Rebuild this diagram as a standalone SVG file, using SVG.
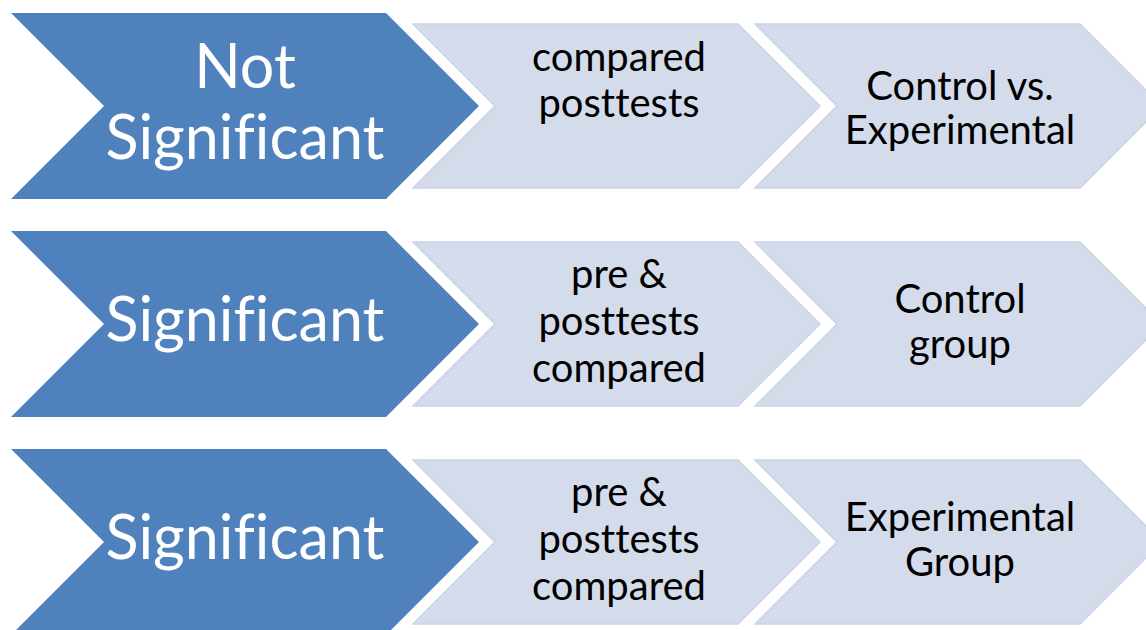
<svg xmlns="http://www.w3.org/2000/svg" width="1146" height="630" viewBox="0 0 1146 630">
<style>
.blue{fill:#4F81BD;}
.light{fill:#D4DBEB;stroke:#CBD3E7;stroke-width:1.5;}
.bt{font-family:Lato,"Open Sans",sans-serif;font-size:61px;fill:#FFFFFF;text-anchor:middle;font-variant-ligatures:none;font-feature-settings:"liga" 0;}
.lt{font-family:Lato,"Open Sans",sans-serif;font-size:40px;fill:#000000;text-anchor:middle;font-variant-ligatures:none;font-feature-settings:"liga" 0;}
</style>
<rect width="1146" height="630" fill="#FFFFFF"/>
<g id="row1-main">
<polygon class="blue" points="11,13 386,13 479,106 386,199 11,199 104,106"/>
<text class="bt" x="245" y="88">Not</text>
<text class="bt" x="245" y="159">Significant</text>
</g>
<g id="row1-step1">
<polygon class="light" points="413,24 738,24 820,106 738,188 413,188 495,106"/>
<text class="lt" x="619" y="71">compared</text>
<text class="lt" x="619" y="117">posttests</text>
</g>
<g id="row1-step2">
<polygon class="light" points="755,24 1080,24 1162,106 1080,188 755,188 837,106"/>
<text class="lt" x="960" y="100">Control vs.</text>
<text class="lt" x="960" y="144">Experimental</text>
</g>
<g id="row2-main">
<polygon class="blue" points="11,231 386,231 479,324 386,417 11,417 104,324"/>
<text class="bt" x="245" y="341">Significant</text>
</g>
<g id="row2-step1">
<polygon class="light" points="413,242 738,242 820,324 738,406 413,406 495,324"/>
<text class="lt" x="619" y="288">pre &amp;</text>
<text class="lt" x="619" y="335">posttests</text>
<text class="lt" x="619" y="382">compared</text>
</g>
<g id="row2-step2">
<polygon class="light" points="755,242 1080,242 1162,324 1080,406 755,406 837,324"/>
<text class="lt" x="960" y="313">Control</text>
<text class="lt" x="960" y="358">group</text>
</g>
<g id="row3-main">
<polygon class="blue" points="11,449 386,449 479,542 386,635 11,635 104,542"/>
<text class="bt" x="245" y="559">Significant</text>
</g>
<g id="row3-step1">
<polygon class="light" points="413,460 738,460 820,542 738,624 413,624 495,542"/>
<text class="lt" x="619" y="506">pre &amp;</text>
<text class="lt" x="619" y="553">posttests</text>
<text class="lt" x="619" y="600">compared</text>
</g>
<g id="row3-step2">
<polygon class="light" points="755,460 1080,460 1162,542 1080,624 755,624 837,542"/>
<text class="lt" x="960" y="531">Experimental</text>
<text class="lt" x="960" y="576">Group</text>
</g>
<g id="connectors"></g>
</svg>
